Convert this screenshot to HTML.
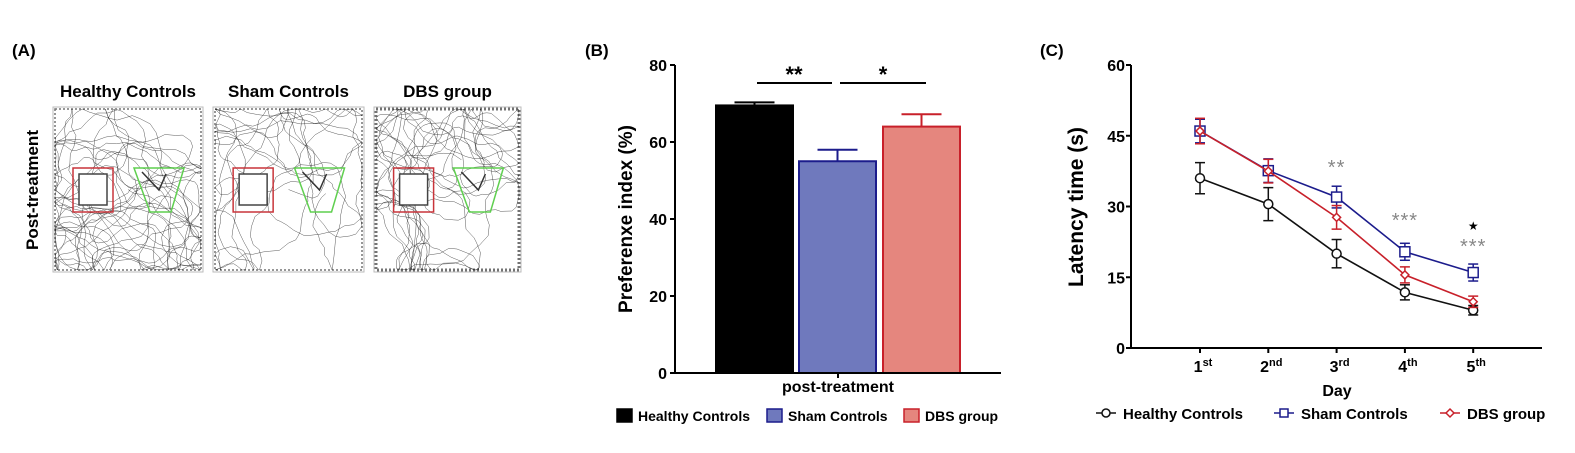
<!DOCTYPE html>
<html><head><meta charset="utf-8">
<style>
body{margin:0;background:#fff;width:1575px;height:448px;overflow:hidden;font-family:"Liberation Sans",Arial,sans-serif}
svg text{font-family:"Liberation Sans",Arial,sans-serif}
</style></head>
<body>
<svg id="fig" width="1575" height="448" viewBox="0 0 1575 448" xmlns="http://www.w3.org/2000/svg">
<text x="12" y="56" font-size="17" font-weight="bold">(A)</text>
<text x="585" y="56" font-size="17" font-weight="bold">(B)</text>
<text x="1040" y="56" font-size="17" font-weight="bold">(C)</text>
<g id="pa"></g>
<g id="pb"></g>
<g id="pc"></g>
</svg>
<script>
const NS="http://www.w3.org/2000/svg";
function mk(p,t,a,txt){const e=document.createElementNS(NS,t);for(const k in a)e.setAttribute(k,a[k]);if(txt!==undefined)e.textContent=txt;p.appendChild(e);return e;}

// ---------- Panel B data ----------
const bGroups=["Healthy Controls","Sham Controls","DBS group"];
const bValues=[69.5,55,64];
const bErrors=[0.8,3,3.2];
const bTicks=[0,20,40,60,80];

// ---------- Panel C data ----------
const cDays=["1","2","3","4","5"];
const cSup=["st","nd","rd","th","th"];
const cHealthy=[36,30.5,20,11.8,8];
const cHealthyErr=[3.3,3.5,3,1.6,1];
const cSham=[46,37.6,32,20.4,16];
const cShamErr=[2.5,2.5,2.3,1.8,1.8];
const cDbs=[46,37.5,27.7,15.5,9.8];
const cDbsErr=[2.7,2.5,2.5,1.7,1.2];
const cTicks=[0,15,30,45,60];

// ---------- Panel A (trajectory illustrations) ----------
const pa=document.getElementById('pa');
mk(pa,'text',{x:38,y:190,'font-size':17,'font-weight':'bold',transform:'rotate(-90 38 190)','text-anchor':'middle',},'Post-treatment');
const boxes=[[53,203,"Healthy Controls",1.0],[213,364,"Sham Controls",0.55],[374,521,"DBS group",0.8]];
let seed=7;function rnd(){seed=(seed*16807)%2147483647;return seed/2147483647;}
boxes.forEach((b,i)=>{
  const g=mk(pa,'g',{});
  
  
  const x0=b[0],x1=b[1],y0=107,y1=272,w=x1-x0,h=y1-y0;
  mk(pa,'text',{x:(x0+x1)/2,y:97,'font-size':17,'font-weight':'bold','text-anchor':'middle',},b[2]);
  mk(g,'rect',{x:x0,y:y0,width:w,height:h,fill:'#fff',stroke:'#bbb'});
  const n=Math.round(900*b[3]);
  let px=x0+w/2,py=y0+h/2,ang=rnd()*6.28;
  let d='M'+px.toFixed(1)+' '+py.toFixed(1);
  for(let k=0;k<n;k++){
    ang+=(rnd()-0.5)*1.4;
    const st=4+rnd()*8;
    let nx=px+Math.cos(ang)*st,ny=py+Math.sin(ang)*st;
    if(nx<x0+2||nx>x1-2){ang=Math.PI-ang;nx=Math.min(x1-2,Math.max(x0+2,nx));}
    if(ny<y0+2||ny>y1-2){ang=-ang;ny=Math.min(y1-2,Math.max(y0+2,ny));}
    px=nx;py=ny;
    d+=' L'+px.toFixed(1)+' '+py.toFixed(1);
  }
  mk(g,'path',{d:d,fill:'none',stroke:'#222','stroke-width':0.5,'stroke-opacity':0.75});
  mk(g,'rect',{x:x0+2,y:y0+2,width:w-4,height:h-4,fill:'none',stroke:'#000','stroke-width':i==2?3:1.5,'stroke-opacity':0.55,'stroke-dasharray':'2 2'});
  const rx=x0+20*w/150, ry=y0+61;
  mk(g,'rect',{x:rx+6,y:ry+6,width:28,height:31,fill:'#fff',stroke:'#444','stroke-width':1.5});
  mk(g,'rect',{x:rx,y:ry,width:40,height:44,fill:'none',stroke:'#c8343a','stroke-width':1.5});
  const gx=x0+81*w/150;
  mk(g,'path',{d:`M${gx} ${ry} L${gx+50} ${ry} L${gx+37} ${ry+44} L${gx+16} ${ry+44} Z`,fill:'none',stroke:'#5fcf4f','stroke-width':1.5});
  mk(g,'path',{d:`M${gx+8} ${ry+4} L${gx+25} ${ry+22} L${gx+32} ${ry+6}`,fill:'none',stroke:'#333','stroke-width':1.5});
});

// ---------- Panel B ----------
const pb=document.getElementById('pb');
const bx0=675,bx1=1001,by0=373,by1=65;
const yB=v=>by0-(v-0)/(80-0)*(by0-by1);
mk(pb,'text',{x:632,y:219,'font-size':19,'font-weight':'bold','text-anchor':'middle',transform:'rotate(-90 632 219)',},'Preferenxe index (%)');
const bFill=['#000','#6f79bd','#e5867e'],bStroke=['#000','#1c1c8c','#c8202a'];
const barX=[715,798,882],barW=79;
bValues.forEach((v,i)=>{
  const cx=barX[i]+barW/2;
  const l=mk(pb,'line',{x1:cx,x2:cx,y1:yB(v),y2:yB(v+bErrors[i]),stroke:bStroke[i],'stroke-width':2});
  
  
  const c=mk(pb,'line',{x1:cx-20,x2:cx+20,y1:yB(v+bErrors[i]),y2:yB(v+bErrors[i]),stroke:bStroke[i],'stroke-width':2});
  
  
  const r=mk(pb,'rect',{x:barX[i]+1,y:yB(v),width:barW-2,height:yB(0)-yB(v),fill:bFill[i],stroke:bStroke[i],'stroke-width':2});
  
  
});
mk(pb,'line',{x1:bx0,x2:bx0,y1:by0,y2:by1,stroke:'#000','stroke-width':2,});
mk(pb,'line',{x1:bx0,x2:bx1,y1:by0,y2:by0,stroke:'#000','stroke-width':2,});
mk(pb,'line',{x1:838,x2:838,y1:by0,y2:by0+5,stroke:'#000','stroke-width':2});
bTicks.forEach(t=>{
  mk(pb,'line',{x1:bx0-5,x2:bx0,y1:yB(t),y2:yB(t),stroke:'#000','stroke-width':2});
  const e=mk(pb,'text',{x:bx0-8,y:yB(t)+6,'font-size':16,'font-weight':'bold','text-anchor':'end'},t);
  
  
});
mk(pb,'text',{x:838,y:392,'font-size':16,'font-weight':'bold','text-anchor':'middle',},'post-treatment');
mk(pb,'line',{x1:757,x2:832,y1:83,y2:83,stroke:'#000','stroke-width':2,});
mk(pb,'text',{x:794,y:82,'font-size':22,'font-weight':'bold','text-anchor':'middle',},'**');
mk(pb,'line',{x1:840,x2:926,y1:83,y2:83,stroke:'#000','stroke-width':2,});
mk(pb,'text',{x:883,y:82,'font-size':22,'font-weight':'bold','text-anchor':'middle',},'*');
const legB=[[617,'Healthy Controls'],[767,'Sham Controls'],[904,'DBS group']];
legB.forEach((l,i)=>{
  const g=mk(pb,'g',{});
  
  
  mk(g,'rect',{x:l[0],y:409,width:15,height:13,fill:bFill[i],stroke:bStroke[i],'stroke-width':1.5});
  mk(g,'text',{x:l[0]+21,y:421,'font-size':14,'font-weight':'bold'},l[1]);
});

// ---------- Panel C ----------
const pc=document.getElementById('pc');
const cx0=1131,cx1=1542,cy0=348,cy1=65;
const yC=v=>cy0-v/60*(cy0-cy1);
const xC=i=>1200+i*68.3;
mk(pc,'text',{x:1083,y:207,'font-size':21,'font-weight':'bold','text-anchor':'middle',transform:'rotate(-90 1083 207)',},'Latency time (s)');
mk(pc,'line',{x1:cx0,x2:cx0,y1:cy0,y2:cy1,stroke:'#000','stroke-width':2,});
mk(pc,'line',{x1:cx0,x2:cx1,y1:cy0,y2:cy0,stroke:'#000','stroke-width':2,});
cTicks.forEach(t=>{
  mk(pc,'line',{x1:cx0-5,x2:cx0,y1:yC(t),y2:yC(t),stroke:'#000','stroke-width':2});
  const e=mk(pc,'text',{x:cx0-6,y:yC(t)+6,'font-size':16,'font-weight':'bold','text-anchor':'end'},t);
  
  
});
cDays.forEach((d,i)=>{
  mk(pc,'line',{x1:xC(i),x2:xC(i),y1:cy0,y2:cy0+5,stroke:'#000','stroke-width':2});
  const t=mk(pc,'text',{x:xC(i)+3,y:372,'font-size':16,'font-weight':'bold','text-anchor':'middle'});
  
  
  t.appendChild(document.createTextNode(d));
  const s=document.createElementNS(NS,'tspan');s.setAttribute('font-size','11');s.setAttribute('dy','-6');s.textContent=cSup[i];t.appendChild(s);
});
mk(pc,'text',{x:1337,y:396,'font-size':16,'font-weight':'bold','text-anchor':'middle',},'Day');
function series(vals,errs,col,marker,name){
  const g=mk(pc,'g',{});
  
  
  mk(g,'polyline',{points:vals.map((v,i)=>xC(i)+','+yC(v)).join(' '),fill:'none',stroke:col,'stroke-width':1.6});
  vals.forEach((v,i)=>{
    const x=xC(i);
    mk(g,'line',{x1:x,x2:x,y1:yC(v-errs[i]),y2:yC(v+errs[i]),stroke:col,'stroke-width':1.5});
    mk(g,'line',{x1:x-5,x2:x+5,y1:yC(v-errs[i]),y2:yC(v-errs[i]),stroke:col,'stroke-width':1.5});
    mk(g,'line',{x1:x-5,x2:x+5,y1:yC(v+errs[i]),y2:yC(v+errs[i]),stroke:col,'stroke-width':1.5});
    let m;
    if(marker=='c') m=mk(g,'circle',{cx:x,cy:yC(v),r:4.5,fill:'#fff',stroke:col,'stroke-width':1.5});
    else if(marker=='s') m=mk(g,'rect',{x:x-5,y:yC(v)-5,width:10,height:10,fill:'#fff',stroke:col,'stroke-width':1.5});
    else m=mk(g,'path',{d:`M${x} ${yC(v)-4} L${x+4} ${yC(v)} L${x} ${yC(v)+4} L${x-4} ${yC(v)} Z`,fill:'#fff',stroke:col,'stroke-width':1.5});
    
    
  });
}
series(cHealthy,cHealthyErr,'#111','c','healthy');
series(cSham,cShamErr,'#1c1c8c','s','sham');
series(cDbs,cDbsErr,'#c8202a','d','dbs');
const stars=[[2,'**',174],[3,'***',227],[4,'***',253]];
stars.forEach(s=>{
  const e=mk(pc,'text',{x:xC(s[0]),y:s[2],'font-size':20,fill:'#888','text-anchor':'middle','letter-spacing':'1'},s[1]);
  
  
});
mk(pc,'text',{x:xC(4),y:230,'font-size':12,fill:'#000','text-anchor':'middle',},'★');
const legC=[[1096,'Healthy Controls','#111','c'],[1274,'Sham Controls','#1c1c8c','s'],[1440,'DBS group','#c8202a','d']];
legC.forEach(l=>{
  const g=mk(pc,'g',{});
  
  
  const y=413;
  mk(g,'line',{x1:l[0],x2:l[0]+20,y1:y,y2:y,stroke:l[2],'stroke-width':1.5});
  const x=l[0]+10;
  if(l[3]=='c') mk(g,'circle',{cx:x,cy:y,r:4,fill:'#fff',stroke:l[2],'stroke-width':1.5});
  else if(l[3]=='s') mk(g,'rect',{x:x-4,y:y-4,width:8,height:8,fill:'#fff',stroke:l[2],'stroke-width':1.5});
  else mk(g,'path',{d:`M${x} ${y-4} L${x+4} ${y} L${x} ${y+4} L${x-4} ${y} Z`,fill:'#fff',stroke:l[2],'stroke-width':1.5});
  mk(g,'text',{x:l[0]+27,y:419,'font-size':15,'font-weight':'bold'},l[1]);
});
</script>
</body></html>
